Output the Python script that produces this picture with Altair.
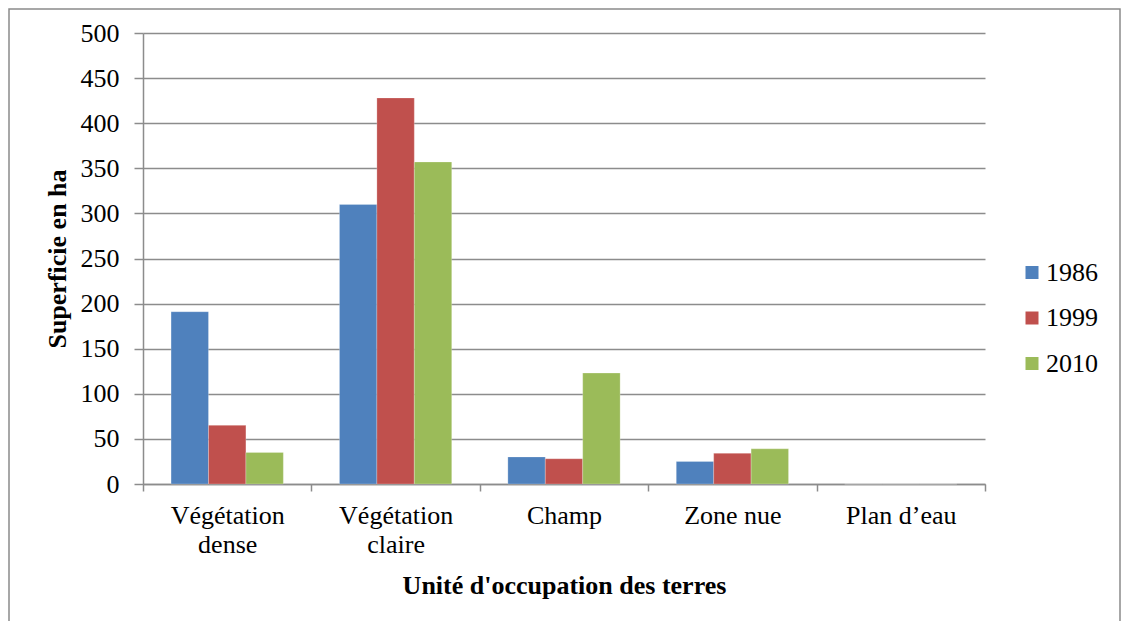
import altair as alt
import pandas as pd

categories = ["Végétation dense", "Végétation claire", "Champ", "Zone nue", "Plan d’eau"]
years = ["1986", "1999", "2010"]
v1986 = [191, 310, 30, 25, 0]
v1999 = [65, 428, 28, 34, 0]
v2010 = [35, 357, 123, 39, 0]
colors = ["#4F81BD", "#C0504D", "#9BBB59"]

rows = []
for yr, vals in zip(years, [v1986, v1999, v2010]):
    for c, v in zip(categories, vals):
        rows.append({"cat": c, "year": yr, "val": v})
df = pd.DataFrame(rows)

FONT = "Liberation Serif"
GRID = "#8C8C8C"

bars = alt.Chart(df).mark_bar(stroke="white", strokeWidth=0.4, strokeOpacity=0.6).encode(
    x=alt.X("cat:N", sort=categories,
            scale=alt.Scale(paddingInner=0, paddingOuter=0),
            axis=alt.Axis(title="Unité d'occupation des terres", labelAngle=0,
                          tickBand="extent", tickSize=7, tickColor=GRID, tickWidth=1.5,
                          domainColor=GRID, domainWidth=1.5,
                          labelExpr="indexof(datum.label, 'Végétation') == 0 ? split(datum.label, ' ') : datum.label",
                          labelFont=FONT, labelFontSize=26, labelColor="black", labelPadding=11,
                          labelLineHeight=29,
                          titleFont=FONT, titleFontSize=26, titleFontWeight="bold", titleColor="black",
                          titleX=421, titleY=101, titleBaseline="middle", titleAlign="center")),
    xOffset=alt.XOffset("year:N", sort=years, scale=alt.Scale(paddingInner=0, paddingOuter=0.75)),
    y=alt.Y("val:Q", scale=alt.Scale(domain=[0, 500]),
            axis=alt.Axis(title="Superficie en ha", values=list(range(0, 501, 50)),
                          tickSize=9, tickColor=GRID, tickWidth=1.5,
                          domainColor=GRID, domainWidth=1.5,
                          gridColor=GRID, gridWidth=1.5,
                          labelFont=FONT, labelFontSize=26, labelColor="black", labelPadding=15,
                          titleFont=FONT, titleFontSize=26, titleFontWeight="bold", titleColor="black",
                          titleX=-86, titleY=225.5, titleAngle=-90, titleBaseline="middle",
                          titleAlign="center")),
    color=alt.Color("year:N", sort=years, scale=alt.Scale(domain=years, range=colors),
                    legend=alt.Legend(title=None, orient="none", legendX=876, legendY=226.5,
                                      symbolType="square", symbolSize=169, symbolStrokeWidth=0,
                                      labelFont=FONT, labelFontSize=26, labelColor="black",
                                      labelOffset=1, rowPadding=19.5)),
)

border = alt.Chart(pd.DataFrame({"a": [0]})).mark_rect(filled=False, stroke="#8A8A8A", strokeWidth=1.5).encode(
    x=alt.value(-134), x2=alt.value(977), y=alt.value(-24), y2=alt.value(700)
)

chart = alt.layer(bars, border).properties(
    width=842, height=451,
    autosize=alt.AutoSizeParams(type="none"),
    padding={"left": 135, "top": 25, "right": 136, "bottom": 137},
    background="white",
).configure_view(stroke=None)

chart.save("out.html", embed_options={"renderer": "svg", "actions": False})
